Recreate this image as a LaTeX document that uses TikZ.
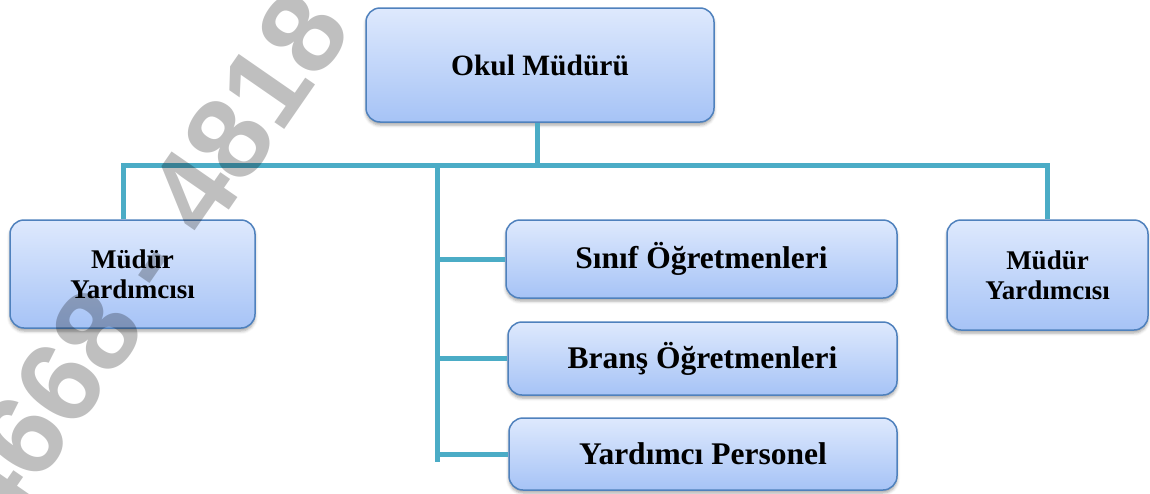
\documentclass[tikz,border=0pt]{standalone}
\usepackage{fontspec}
\setmainfont{Liberation Serif}
\newfontfamily\wmfont{Liberation Sans}
\usetikzlibrary{shadows.blur}
\definecolor{boxtop}{HTML}{DEE9FD}
\definecolor{boxbot}{HTML}{A6C3F6}
\definecolor{boxedge}{HTML}{4F81BD}
\definecolor{conn}{HTML}{4BACC6}
\begin{document}
\begin{tikzpicture}[x=1pt,y=-1pt,
  orgbox/.style={draw=boxedge, line width=1.5pt, rounded corners=14pt,
    top color=boxtop, bottom color=boxbot,
    blur shadow={shadow xshift=0pt, shadow yshift=-3pt, shadow blur radius=3pt, shadow opacity=35},
    inner sep=0pt, align=center, anchor=center},
  toptxt/.style={font=\bfseries\fontsize{29.5}{34}\selectfont},
  bigtxt/.style={font=\bfseries\fontsize{31.5}{36}\selectfont},
  smalltxt/.style={font=\bfseries\fontsize{27}{30}\selectfont},
  link/.style={draw=conn, line width=5pt}]
\useasboundingbox (0,0) rectangle (1150,493);
\clip (0,0) rectangle (1150,493);

% boxes
\node[orgbox, toptxt, minimum width=348pt, minimum height=114pt] (top) at (540,65) {Okul Müdürü};
\node[orgbox, smalltxt, minimum width=245pt, minimum height=108pt] (mL) at (132.5,274) {Müdür\\Yardımcısı};
\node[orgbox, smalltxt, minimum width=201pt, minimum height=110pt] (mR) at (1047.5,275) {Müdür\\Yardımcısı};
\node[orgbox, bigtxt, minimum width=391pt, minimum height=78pt] (s1) at (701.5,259) {Sınıf Öğretmenleri};
\node[orgbox, bigtxt, minimum width=389pt, minimum height=73pt] (s2) at (702.5,358.5) {Branş Öğretmenleri};
\node[orgbox, bigtxt, minimum width=388pt, minimum height=72pt] (s3) at (703,454) {Yardımcı Personel};

% connectors
\coordinate (hL) at (123,165);
\coordinate (hR) at (1047,165);
\coordinate (hT) at (537,165);
\coordinate (sp) at (437,165);
\coordinate (spE) at (437,462);
\draw[link] (hT |- top.south) -- (hT);
\draw[link] (hL |- mL.north) -- (hL) -- (hR) -- (hR |- mR.north);
\draw[link] (sp) -- (spE);
\draw[link] (sp |- s1.west) -- (s1.west);
\draw[link] (sp |- s2.west) -- (s2.west);
\draw[link] (sp |- s3.west) -- (s3.west);

% watermark
\node[rotate=55.3, text=black, text opacity=0.25, inner sep=0pt,
  font=\wmfont\bfseries\fontsize{116.5}{116.5}\selectfont] (wm) at (144.7,261.4)
  {4668 - 4818};
\end{tikzpicture}
\end{document}
